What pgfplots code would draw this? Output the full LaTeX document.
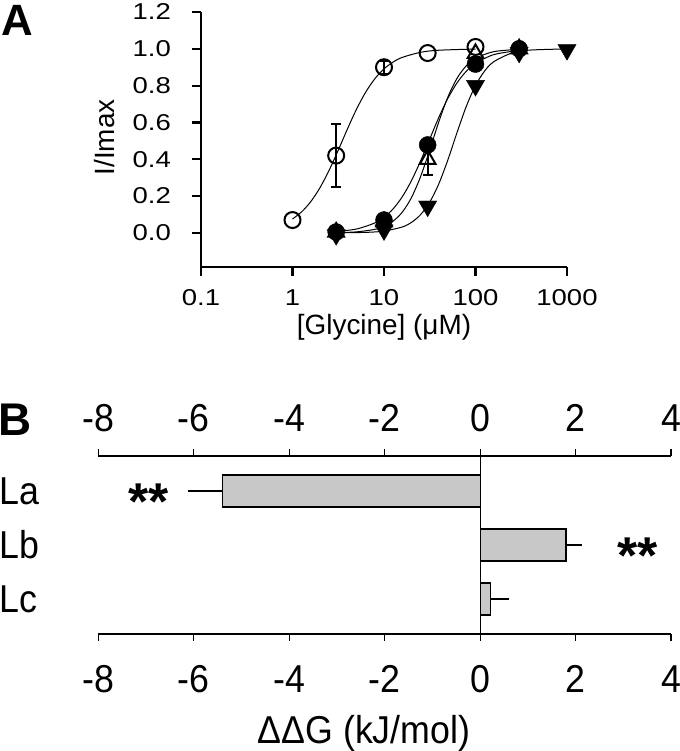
\documentclass[border=0pt]{standalone}
\usepackage{fontspec}
\setmainfont{Liberation Sans}
\newfontfamily\fA{Liberation Sans}[FakeStretch=1.2]
\newfontfamily\fB{Liberation Sans}[FakeStretch=0.92]
\usepackage{pgfplots}
\pgfplotsset{compat=1.18}
\definecolor{barfill}{RGB}{200,200,200}
\begin{document}
\begin{tikzpicture}[x=1bp,y=1bp]
\path[use as bounding box] (0,0) rectangle (680,751);
\node[font=\bfseries\fontsize{44}{44}\selectfont, inner sep=0pt] at (17.5,731) {A};
\node[font=\bfseries\fontsize{46}{46}\selectfont, inner sep=0pt] at (15,331) {B};
% ---------------- Panel A ----------------
\begin{axis}[
  at={(201bp,484bp)}, anchor=south west,
  scale only axis, width=366bp, height=255bp,
  xmode=log, xmin=0.1, xmax=1000, ymin=-0.185, ymax=1.2,
  axis x line*=bottom, axis y line*=left,
  axis line style={-, line width=2.2bp},
  tick align=outside, major tick length=9bp,
  tick style={line width=2.2bp, black},
  xminorticks=false,
  xtick={0.1,1,10,100,1000}, xticklabels={0.1,1,10,100,1000},
  ytick={0,0.2,0.4,0.6,0.8,1.0,1.2},
  yticklabels={0.0,0.2,0.4,0.6,0.8,1.0,1.2},
  ticklabel style={font=\fA\fontsize{23}{23}\selectfont, inner sep=0pt},
  xticklabel style={anchor=center, yshift=-22bp},
  yticklabel style={anchor=east, xshift=-21bp},
  xlabel={[Glycine] (μM)}, ylabel={I/Imax},
  label style={font=\fontsize{28}{28}\selectfont},
  xlabel style={at={(axis description cs:0.5,-0.235)}, anchor=center},
  ylabel style={at={(axis description cs:-0.2623,0.508)}, anchor=center},
  clip=false,
]
% error bars (open circles and open triangles)
\addplot[draw=none, mark=none, forget plot,
  error bars/.cd, y dir=both, y explicit,
  error bar style={draw=black, line width=2bp},
  error mark options={draw=black, rotate=90, mark size=5bp, line width=2bp}]
  coordinates {(3,0.42) +- (0,0.17) (10,0.90) +- (0,0.035)};
\addplot[draw=none, mark=none, forget plot,
  error bars/.cd, y dir=both, y explicit,
  error bar style={draw=black, line width=2bp},
  error mark options={draw=black, rotate=90, mark size=5bp, line width=2bp}]
  coordinates {(30,0.40) +- (0,0.085)};
% filled down triangles
\addplot[only marks, mark=triangle*, mark size=10.5bp,
  mark options={rotate=180, fill=black, draw=black}]
  coordinates {(3,-0.01) (10,0.016) (30,0.145) (100,0.80) (300,0.98) (1000,0.995)};
% filled circles
\addplot[only marks, mark=*, mark size=8.5bp,
  mark options={fill=black, draw=black}]
  coordinates {(3,0.005) (10,0.07) (30,0.478) (100,0.917) (300,1.0)};
% open circles
\addplot[only marks, mark=o, mark size=8bp,
  mark options={fill=white, draw=black, line width=2bp}]
  coordinates {(1,0.07) (3,0.42) (10,0.90) (30,0.977) (100,1.01)};
% open triangles
\addplot[only marks, mark=triangle, mark size=9bp,
  mark options={fill=white, draw=black, line width=2bp}]
  coordinates {(3,0.005) (10,0.06) (30,0.40) (100,0.975) (300,1.0)};
% fitted curves
\addplot[black, line width=1bp, smooth, no marks] coordinates {
(1,0.0755) (1.2589,0.1146) (1.5849,0.1702) (1.9953,0.2453) (2.5119,0.340)
(3.1623,0.4495) (3.9811,0.5641) (5.0119,0.6723) (6.3096,0.7647) (7.9433,0.8375)
(10,0.8909) (12.589,0.9283) (15.849,0.9535) (25.119,0.981) (39.811,0.9923) (100,0.9988)};
\addplot[black, line width=1bp, smooth, no marks] coordinates {
(3,0.0074) (5.0119,0.0213) (7.9433,0.0542) (10,0.0850) (12.589,0.1309)
(15.849,0.1964) (19.953,0.2838) (25.119,0.3913) (31.623,0.5104) (39.811,0.6283)
(50.119,0.7327) (63.096,0.8164) (79.433,0.8782) (100,0.9212) (158.49,0.9685) (300,0.9916)};
\addplot[black, line width=1bp, smooth, no marks] coordinates {
(3,0.0014) (5.0119,0.0057) (7.9433,0.0193) (10,0.0354) (12.589,0.0640)
(15.849,0.1130) (19.953,0.1917) (25.119,0.3063) (31.623,0.4512) (39.811,0.6049)
(50.119,0.7403) (63.096,0.8414) (79.433,0.9081) (100,0.9485) (158.49,0.9846) (300,0.9972)};
\addplot[black, line width=1bp, smooth, no marks] coordinates {
(3,0.0004) (6.3096,0.0030) (10,0.0100) (15.849,0.0323) (19.953,0.0572)
(25.119,0.0994) (31.623,0.1673) (39.811,0.2677) (50.119,0.3995) (63.096,0.5479)
(79.433,0.6880) (100,0.8006) (125.89,0.8796) (158.49,0.9300) (251.19,0.9778)
(398.11,0.9932) (1000,0.9994)};
\end{axis}
% ---------------- Panel B (bottom axis, bars) ----------------
\begin{axis}[
  at={(98.3bp,117bp)}, anchor=south west,
  scale only axis, width=572.7bp, height=178bp,
  xmin=-8, xmax=4, ymin=-0.65, ymax=2.65,
  axis x line*=bottom, axis y line*=left,
  axis line style={-, line width=1.2bp},
  y axis line style={draw=none},
  tick align=outside, major tick length=7bp,
  tick style={line width=1.2bp, black},
  ytick style={draw=none},
  xtick={-8,-6,-4,-2,0,2,4}, xticklabels={-8,-6,-4,-2,0,2,4},
  ytick={0,1,2}, yticklabels={Lc,Lb,La},
  ticklabel style={font=\fB\fontsize{39}{39}\selectfont, inner sep=0pt},
  yticklabel style={anchor=west, xshift=-92bp},
  xticklabel style={anchor=center, yshift=-38bp},
  xlabel={ΔΔG (kJ/mol)},
  label style={font=\fB\fontsize{39}{39}\selectfont},
  xlabel style={at={(axis description cs:0.464,-0.56)}, anchor=center},
  clip=false,
]
\addplot[xbar, bar width=32bp, bar shift=0pt, fill=barfill, draw=black, line width=1.2bp,
  error bars/.cd, x dir=both, x explicit,
  error bar style={line width=1.2bp, draw=black},
  error mark options={draw=black, mark size=5.5bp, line width=1.2bp}]
  coordinates {(-5.40,2) += (0,0) -= (0.61,0)
               (1.80,1) += (0.21,0) -= (0,0)
               (0.22,0) += (0.28,0) -= (0,0)};
\addplot[black, line width=1.2bp, no marks] coordinates {(0,-0.65) (0,2.65)};
\node[font=\bfseries\fontsize{52}{52}\selectfont, anchor=base, yshift=-28bp]
  at (axis cs:-6.94,2) {**};
\node[font=\bfseries\fontsize{52}{52}\selectfont, anchor=base, yshift=-28.5bp]
  at (axis cs:3.30,1) {**};
\end{axis}
% ---------------- Panel B (top axis) ----------------
\begin{axis}[
  at={(98.3bp,117bp)}, anchor=south west,
  scale only axis, width=572.7bp, height=178bp,
  xmin=-8, xmax=4, ymin=-0.65, ymax=2.65,
  axis x line*=top, axis y line=none,
  axis line style={-, line width=1.2bp},
  tick align=outside, major tick length=7bp,
  tick style={line width=1.2bp, black},
  xtick={-8,-6,-4,-2,0,2,4}, xticklabels={-8,-6,-4,-2,0,2,4},
  ticklabel style={font=\fB\fontsize{39}{39}\selectfont, inner sep=0pt},
  xticklabel style={anchor=center, yshift=31bp},
]
\addplot[draw=none, no marks] coordinates {(0,0)};
\end{axis}
\end{tikzpicture}
\end{document}
